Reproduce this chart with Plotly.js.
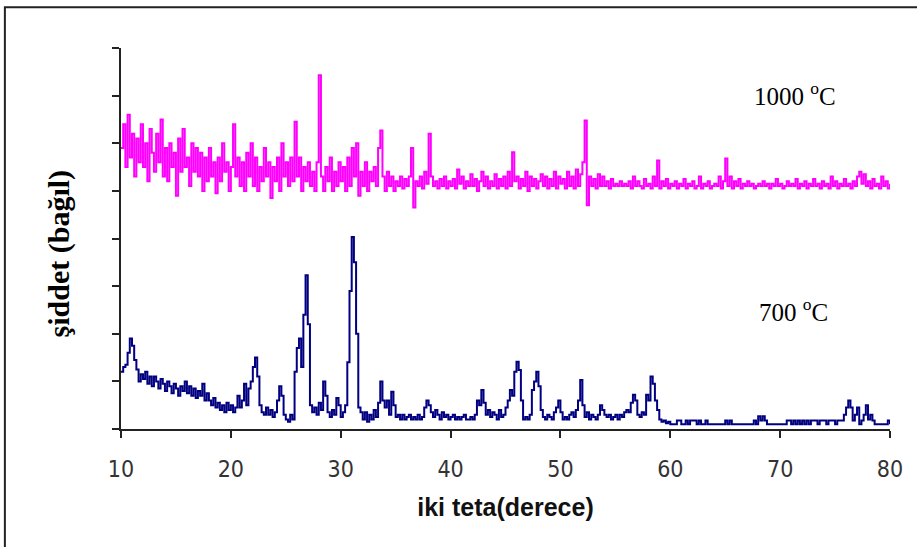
<!DOCTYPE html>
<html>
<head>
<meta charset="utf-8">
<script src="https://cdn.plot.ly/plotly-3.0.1.min.js"></script>
<style>html,body{margin:0;padding:0;background:#fff;}#chart{width:917px;height:547px;}</style>
</head>
<body>
<div id="chart"></div>
<script>
// 2-theta scan: starts at 10 degrees, one reading every 0.2 degrees up to 80
const scanStart = 10;
const scanStep = 0.2;
const xTickVals = [10, 20, 30, 40, 50, 60, 70, 80];
const xTickText = ["10", "20", "30", "40", "50", "60", "70", "80"];
const seriesNames = ["700 \u00baC", "1000 \u00baC"];

// 700 °C pattern (relative intensity)
const intensity700 = [
  1.2,1.3,1.35,1.6,1.9,      // 10
  1.75,1.45,1.25,1.0,1.15,   // 11
  1.05,1.2,0.95,1.1,0.9,     // 12
  1.1,1.0,0.85,1.05,0.95,    // 13
  0.8,1.0,0.9,0.75,0.95,     // 14
  0.85,0.7,0.9,0.8,1.0,      // 15
  0.75,0.9,0.7,0.85,0.65,    // 16
  0.8,0.7,0.95,0.6,0.75,     // 17
  0.6,0.5,0.65,0.45,0.55,    // 18
  0.4,0.5,0.35,0.55,0.4,     // 19
  0.5,0.35,0.45,0.7,0.45,    // 20
  0.6,0.95,0.5,0.85,1.0,     // 21
  1.3,1.5,1.1,0.5,0.35,      // 22
  0.3,0.45,0.3,0.4,0.25,     // 23
  0.35,0.6,0.9,0.7,0.3,      // 24
  0.2,0.15,0.3,0.2,1.2,      // 25
  1.7,1.9,1.3,2.4,3.23,      // 26
  2.2,0.5,0.35,0.45,0.3,     // 27
  0.55,0.4,1.0,0.7,0.35,     // 28
  0.25,0.4,0.3,0.65,0.5,     // 29
  0.25,0.35,0.5,1.4,2.9,     // 30
  4.03,3.5,2.0,0.45,0.35,    // 31
  0.2,0.35,0.15,0.3,0.2,     // 32
  0.4,0.25,0.55,1.0,0.6,     // 33
  0.45,0.6,0.3,0.78,0.5,     // 34
  0.25,0.3,0.2,0.3,0.2,      // 35
  0.25,0.3,0.2,0.25,0.2,     // 36
  0.3,0.2,0.25,0.45,0.6,     // 37
  0.5,0.35,0.25,0.4,0.3,     // 38
  0.2,0.35,0.25,0.3,0.2,     // 39
  0.25,0.3,0.2,0.25,0.2,     // 40
  0.25,0.3,0.2,0.2,0.25,     // 41
  0.2,0.3,0.6,0.5,0.82,      // 42
  0.55,0.3,0.4,0.25,0.35,    // 43
  0.3,0.2,0.4,0.25,0.3,      // 44
  0.45,0.6,0.82,0.7,1.2,     // 45
  1.41,1.24,0.6,0.2,0.25,    // 46
  0.2,0.3,0.82,1.0,1.2,      // 47
  0.9,0.4,0.25,0.2,0.3,      // 48
  0.25,0.2,0.35,0.45,0.6,    // 49
  0.35,0.2,0.25,0.2,0.3,     // 50
  0.35,0.25,0.4,0.6,1.03,    // 51
  0.5,0.25,0.35,0.2,0.3,     // 52
  0.25,0.2,0.3,0.5,0.4,      // 53
  0.3,0.25,0.3,0.2,0.25,     // 54
  0.3,0.2,0.3,0.25,0.35,     // 55
  0.4,0.35,0.55,0.72,0.6,    // 56
  0.3,0.25,0.35,0.3,0.72,    // 57
  0.6,1.1,0.95,0.6,0.4,      // 58
  0.2,0.15,0.18,0.12,0.15,   // 59
  0.1,0.1,0.1,0.18,0.18,     // 60
  0.1,0.1,0.18,0.1,0.18,     // 61
  0.18,0.18,0.1,0.18,0.1,    // 62
  0.1,0.18,0.1,0.1,0.1,      // 63
  0.1,0.1,0.1,0.1,0.1,       // 64
  0.18,0.1,0.18,0.1,0.1,     // 65
  0.1,0.1,0.1,0.1,0.1,       // 66
  0.1,0.1,0.1,0.18,0.1,      // 67
  0.27,0.18,0.27,0.18,0.1,   // 68
  0.1,0.1,0.1,0.1,0.1,       // 69
  0.1,0.1,0.1,0.18,0.18,     // 70
  0.1,0.18,0.1,0.18,0.1,     // 71
  0.18,0.1,0.18,0.1,0.18,    // 72
  0.18,0.18,0.1,0.18,0.18,   // 73
  0.18,0.1,0.18,0.18,0.18,   // 74
  0.1,0.18,0.18,0.18,0.3,    // 75
  0.45,0.6,0.45,0.18,0.3,    // 76
  0.45,0.1,0.18,0.3,0.5,     // 77
  0.2,0.3,0.18,0.1,0.1,      // 78
  0.1,0.1,0.1,0.1,0.18,      // 79
  0.1                        // 80
];

// 1000 °C pattern (relative intensity)
const intensity1000 = [
  5.9,6.4,5.5,6.6,5.7,       // 10
  6.2,5.3,6.1,5.6,6.4,       // 11
  5.5,6.0,5.2,6.3,5.8,       // 12
  5.4,6.2,5.6,6.5,5.3,       // 13
  5.9,5.2,6.0,5.5,5.8,       // 14
  4.9,6.1,5.4,6.3,5.5,       // 15
  5.7,5.1,6.0,5.4,5.9,       // 16
  5.3,5.8,5.0,5.7,5.2,       // 17
  5.9,5.3,5.6,4.95,5.7,      // 18
  5.2,6.0,5.4,5.6,5.0,       // 19
  5.5,6.4,5.3,5.7,5.1,       // 20
  5.6,5.0,5.8,5.3,6.0,       // 21
  5.1,5.7,5.0,5.5,5.2,       // 22
  5.9,5.3,5.6,4.85,5.5,      // 23
  5.2,5.7,5.0,6.0,5.3,       // 24
  5.6,5.1,5.7,5.2,6.45,      // 25
  5.3,5.7,5.0,5.5,5.2,       // 26
  5.6,5.1,5.4,5.0,5.6,       // 27
  7.43,5.3,5.0,5.5,5.2,      // 28
  5.7,5.0,5.4,5.1,5.6,       // 29
  5.2,5.5,5.0,5.7,5.1,       // 30
  5.9,5.3,6.0,4.9,5.4,       // 31
  5.1,5.6,5.0,5.4,5.2,       // 32
  5.5,5.1,5.9,6.27,5.3,      // 33
  5.0,5.4,5.1,5.3,5.0,       // 34
  5.2,5.1,5.3,5.05,5.25,     // 35
  5.1,5.3,5.9,4.65,5.2,      // 36
  5.1,5.3,5.05,5.4,5.15,     // 37
  6.2,5.3,5.1,5.2,5.05,      // 38
  5.25,5.1,5.3,5.05,5.2,     // 39
  5.1,5.25,5.05,5.45,5.15,   // 40
  5.3,5.05,5.2,5.1,5.35,     // 41
  5.1,5.25,5.0,5.2,5.4,      // 42
  5.1,5.3,5.05,5.2,5.1,      // 43
  5.35,5.05,5.25,5.1,5.3,    // 44
  5.05,5.4,5.1,5.81,5.2,     // 45
  5.3,5.05,5.25,5.1,5.4,     // 46
  5.0,5.3,5.1,5.25,5.05,     // 47
  5.2,5.35,5.1,5.3,5.05,     // 48
  5.25,5.1,5.4,5.05,5.3,     // 49
  5.15,5.25,5.05,5.4,5.1,    // 50
  5.3,5.05,5.45,5.1,5.35,    // 51
  5.6,6.48,4.7,5.3,5.1,      // 52
  5.25,5.05,5.35,5.1,5.3,    // 53
  5.1,5.2,5.05,5.25,5.1,     // 54
  5.15,5.1,5.2,5.1,5.15,     // 55
  5.1,5.2,5.05,5.3,5.1,      // 56
  5.2,5.1,5.05,5.25,5.1,     // 57
  5.15,5.05,5.3,5.1,5.64,    // 58
  5.05,5.2,5.1,5.25,5.05,    // 59
  5.15,5.1,5.2,5.05,5.15,    // 60
  5.1,5.25,5.05,5.15,5.1,    // 61
  5.2,5.05,5.1,5.3,5.05,     // 62
  5.15,5.1,5.2,5.05,5.1,     // 63
  5.15,5.1,5.3,5.05,5.2,     // 64
  5.68,5.1,5.3,5.05,5.2,     // 65
  5.1,5.25,5.05,5.15,5.1,    // 66
  5.2,5.1,5.15,5.05,5.1,     // 67
  5.15,5.1,5.2,5.1,5.15,     // 68
  5.05,5.15,5.1,5.25,5.1,    // 69
  5.15,5.05,5.1,5.2,5.1,     // 70
  5.15,5.1,5.25,5.05,5.15,   // 71
  5.1,5.2,5.05,5.15,5.1,     // 72
  5.25,5.1,5.15,5.05,5.2,    // 73
  5.1,5.15,5.05,5.3,5.1,     // 74
  5.2,5.05,5.15,5.1,5.25,    // 75
  5.1,5.15,5.05,5.2,5.1,     // 76
  5.3,5.4,5.15,5.35,5.1,     // 77
  5.2,5.05,5.25,5.1,5.15,    // 78
  5.05,5.3,5.1,5.2,5.05,     // 79
  5.15                       // 80
];

const traces = [
  {
    type: "scatter", mode: "lines", name: seriesNames[0],
    x0: scanStart, dx: scanStep, y: intensity700,
    line: {color: "#000080", width: 2, shape: "hv"},
    hoverinfo: "x+y"
  },
  {
    type: "scatter", mode: "lines", name: seriesNames[1],
    x0: scanStart, dx: scanStep, y: intensity1000,
    line: {color: "#FF00FF", width: 2, shape: "hv"},
    hoverinfo: "x+y"
  }
];

const serif = "'Times New Roman', 'Liberation Serif', serif";

const layout = {
  width: 917, height: 547,
  margin: {l: 121, r: 27, t: 48, b: 118, pad: 0},
  paper_bgcolor: "#ffffff", plot_bgcolor: "#ffffff",
  showlegend: false,
  xaxis: {
    range: [10, 80], tickvals: xTickVals, ticktext: xTickText,
    ticks: "outside", ticklen: 7, tickwidth: 2, tickcolor: "#222",
    ticklabelstandoff: 11,
    showline: true, linewidth: 2, linecolor: "#222",
    showgrid: false, zeroline: false,
    tickfont: {family: "'Liberation Sans Narrow', 'DejaVu Sans Condensed', Arial, sans-serif", size: 23, color: "#333"},
    title: {text: "<b>iki teta(derece)</b>", font: {family: "Arial, 'Liberation Sans', sans-serif", size: 25, color: "#111"}, standoff: 18}
  },
  yaxis: {
    range: [0, 8], dtick: 1, tick0: 0,
    ticks: "outside", ticklen: 7, tickwidth: 2, tickcolor: "#222",
    showticklabels: false,
    showline: true, linewidth: 2, linecolor: "#222",
    showgrid: false, zeroline: false
  },
  annotations: [
    {xref: "paper", yref: "paper", x: -0.081, y: 0.46, xanchor: "center", yanchor: "middle", showarrow: false,
     textangle: -90, text: "<b>\u015fiddet (ba\u011f\u0131l)</b>", font: {family: serif, size: 30, color: "#000"}},
    {xref: "paper", yref: "paper", x: 0.876, y: 0.88, xanchor: "center", yanchor: "middle", showarrow: false,
     text: "1000 <sup>o</sup>C", font: {family: serif, size: 25, color: "#000"}},
    {xref: "paper", yref: "paper", x: 0.874, y: 0.313, xanchor: "center", yanchor: "middle", showarrow: false,
     text: "700 <sup>o</sup>C", font: {family: serif, size: 25, color: "#000"}}
  ],
  shapes: [
    {type: "rect", xref: "paper", yref: "paper", x0: -0.151, x1: 1.3, y0: -0.8, y1: 1.107,
     line: {color: "#222", width: 2}, fillcolor: "rgba(0,0,0,0)", layer: "below"}
  ]
};

Plotly.newPlot("chart", traces, layout, {displayModeBar: false, staticPlot: true});
</script>
</body>
</html>
